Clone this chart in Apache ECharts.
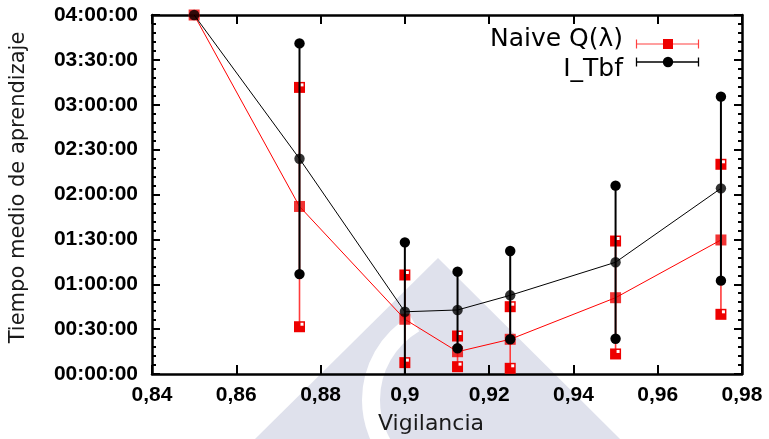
<!DOCTYPE html>
<html><head><meta charset="utf-8">
<script src="https://cdn.jsdelivr.net/npm/echarts@6/dist/echarts.min.js"></script>
<style>html,body{margin:0;padding:0;background:#fff}#c{width:769px;height:439px}</style>
</head><body><div id="c"></div>
<script>
// X values (Vigilancia)
const vigilancia = [0.85, 0.875, 0.9, 0.9125, 0.925, 0.95, 0.975];
// Times in minutes
const naiveMean = [240, 112, 36.6, 14.9, 23.2, 51, 89.6];
const naiveLow  = [240, 31.6, 7.6, 4.9, 3.8, 13.4, 39.9];
const naiveHigh = [240, 191.6, 66.2, 25.4, 45, 88.9, 140.2];
const tbfMean   = [240, 143.9, 41.6, 42.8, 52.6, 74.7, 124.1];
const tbfLow    = [240, 66.8, -10, 17.2, 23.2, 23.6, 62.4];
const tbfHigh   = [240, 221, 88, 68.4, 82.2, 125.9, 185.4];
const seriesNames = ['Naive Q(λ)', 'I_Tbf'];
const xAxisName = 'Vigilancia';
const yAxisName = 'Tiempo medio de aprendizaje';

function pad(n){ return (n < 10 ? '0' : '') + n; }
function fmtTime(m){
  const s = Math.round(m * 60);
  return pad(Math.floor(s/3600)) + ':' + pad(Math.floor(s%3600/60)) + ':' + pad(s%60);
}
function fmtX(v){ return String(Number(v.toFixed(3))).replace('.', ','); }

const chart = echarts.init(document.getElementById('c'), null, {renderer:'canvas'});

function errRender(kind){
  return function(params, api){
    const x = api.value(0), lo = api.value(1), hi = api.value(2);
    if (hi - lo === 0) return {type:'group', children:[]};
    const pLo = api.coord([x, Math.max(lo, 0)]);
    const pHi = api.coord([x, hi]);
    const children = [{
      type:'line', shape:{x1:pLo[0], y1:pLo[1], x2:pHi[0], y2:pHi[1]},
      style: kind === 'square' ? {stroke:'#ff3b3b', lineWidth:1.6} : {stroke:'#000', lineWidth:2}
    }];
    const ends = [];
    if (lo >= 0) ends.push(pLo);
    ends.push(pHi);
    ends.forEach(function(p){
      if (kind === 'square') {
        children.push({type:'rect', shape:{x:p[0]-5.5, y:p[1]-5.5, width:11, height:11}, style:{fill:'#ee0000'}});
        children.push({type:'rect', shape:{x:p[0]+1, y:p[1]-4, width:3, height:3}, style:{fill:'#fff'}});
      } else {
        children.push({type:'circle', shape:{cx:p[0], cy:p[1], r:5.2}, style:{fill:'#000'}});
      }
    });
    return {type:'group', children:children};
  };
}

const naiveErr = vigilancia.map((x,i) => [x, naiveLow[i], naiveHigh[i]]);
const tbfErr = vigilancia.map((x,i) => [x, tbfLow[i], tbfHigh[i]]);
const naivePts = vigilancia.map((x,i) => [x, naiveMean[i]]);
const tbfPts = vigilancia.map((x,i) => [x, tbfMean[i]]);

const tickFont = {fontSize:21, fontWeight:'bold', fontFamily:'Liberation Sans', color:'#000'};
const axisLineStyle = {color:'#000', width:2.5};

const option = {
  animation:false,
  backgroundColor:'#fff',
  grid:{left:152, right:27, top:15, bottom:65, containLabel:false},
  xAxis:[
    {type:'value', position:'bottom', min:0.84, max:0.98, interval:0.02,
     axisLine:{show:true, onZero:false, lineStyle:axisLineStyle},
     axisTick:{show:true, inside:true, length:9, lineStyle:{color:'#000', width:2}},
     axisLabel:Object.assign({margin:11, formatter:fmtX}, tickFont),
     splitLine:{show:false}},
    {type:'value', position:'top', min:0.84, max:0.98, interval:0.02,
     axisLine:{show:true, onZero:false, lineStyle:axisLineStyle},
     axisTick:{show:true, inside:true, length:9, lineStyle:{color:'#000', width:2}},
     axisLabel:{show:false}, splitLine:{show:false}}
  ],
  yAxis:[
    {type:'value', position:'left', min:0, max:240, interval:30,
     axisLine:{show:true, onZero:false, lineStyle:axisLineStyle},
     axisTick:{show:true, inside:true, length:8, lineStyle:{color:'#000', width:2}},
     minorTick:{show:true, splitNumber:5, length:4, lineStyle:{color:'#000', width:2}},
     axisLabel:Object.assign({margin:14, formatter:fmtTime}, tickFont),
     splitLine:{show:false}},
    {type:'value', position:'right', min:0, max:240, interval:30,
     axisLine:{show:true, onZero:false, lineStyle:axisLineStyle},
     axisTick:{show:true, inside:true, length:8, lineStyle:{color:'#000', width:2}},
     minorTick:{show:true, splitNumber:5, length:4, lineStyle:{color:'#000', width:2}},
     axisLabel:{show:false}, splitLine:{show:false}}
  ],
  graphic:[
    {type:'polygon', z:-10, shape:{points:[[438,258],[255,439],[620,439]]}, style:{fill:'#dfe1ec'}},
    {type:'arc', z:-9, shape:{cx:460, cy:400, r:89, startAngle:Math.PI*0.5, endAngle:Math.PI*1.33, clockwise:true}, style:{stroke:'#ffffff', lineWidth:18, fill:null}},
    {type:'text', z:10, style:{text:seriesNames[0], x:623, y:39.5, align:'right', verticalAlign:'middle', font:'25px "DejaVu Sans"', fill:'#000'}},
    {type:'text', z:10, style:{text:seriesNames[1], x:623, y:69.5, align:'right', verticalAlign:'middle', font:'25px "DejaVu Sans"', fill:'#000'}},
    {type:'line', z:10, shape:{x1:636, y1:44, x2:699, y2:44}, style:{stroke:'#ff4040', lineWidth:1.2}},
    {type:'line', z:10, shape:{x1:636.5, y1:39.5, x2:636.5, y2:48.5}, style:{stroke:'#ff4040', lineWidth:1.2}},
    {type:'line', z:10, shape:{x1:698.5, y1:39.5, x2:698.5, y2:48.5}, style:{stroke:'#ff4040', lineWidth:1.2}},
    {type:'rect', z:10, shape:{x:663, y:39, width:10, height:10}, style:{fill:'#ee0000'}},
    {type:'line', z:10, shape:{x1:636, y1:62, x2:699, y2:62}, style:{stroke:'#000', lineWidth:1.3}},
    {type:'line', z:10, shape:{x1:636.5, y1:57.5, x2:636.5, y2:66.5}, style:{stroke:'#000', lineWidth:1.3}},
    {type:'line', z:10, shape:{x1:698.5, y1:57.5, x2:698.5, y2:66.5}, style:{stroke:'#000', lineWidth:1.3}},
    {type:'circle', z:10, shape:{cx:668, cy:62, r:5.2}, style:{fill:'#000'}},
    {type:'text', z:10, style:{text:xAxisName, x:431, y:424, align:'center', verticalAlign:'middle', font:'22px "DejaVu Sans"', fill:'#1a1a1a'}},
    {type:'text', z:10, x:19, y:187.5, rotation:Math.PI/2, style:{text:yAxisName, x:0, y:0, align:'center', verticalAlign:'middle', font:'21px "DejaVu Sans"', fill:'#1a1a1a'}}
  ],
  series:[
    {type:'line', name:seriesNames[0], data:naivePts, symbol:'none', z:2, lineStyle:{color:'#ff0000', width:1}},
    {type:'custom', name:seriesNames[0]+' err', data:naiveErr, renderItem:errRender('square'), clip:false, z:3},
    {type:'scatter', data:naivePts, symbol:'rect', symbolSize:11, itemStyle:{color:'#ee0000'}, z:4, clip:false},
    {type:'line', name:seriesNames[1], data:tbfPts, symbol:'none', z:5, lineStyle:{color:'#000', width:1}},
    {type:'custom', name:seriesNames[1]+' err', data:tbfErr, renderItem:errRender('circle'), clip:false, z:6},
    {type:'scatter', data:tbfPts, symbol:'circle', symbolSize:10.4, itemStyle:{color:'#000'}, z:7, clip:false}
  ]
};
chart.setOption(option);
</script></body></html>
